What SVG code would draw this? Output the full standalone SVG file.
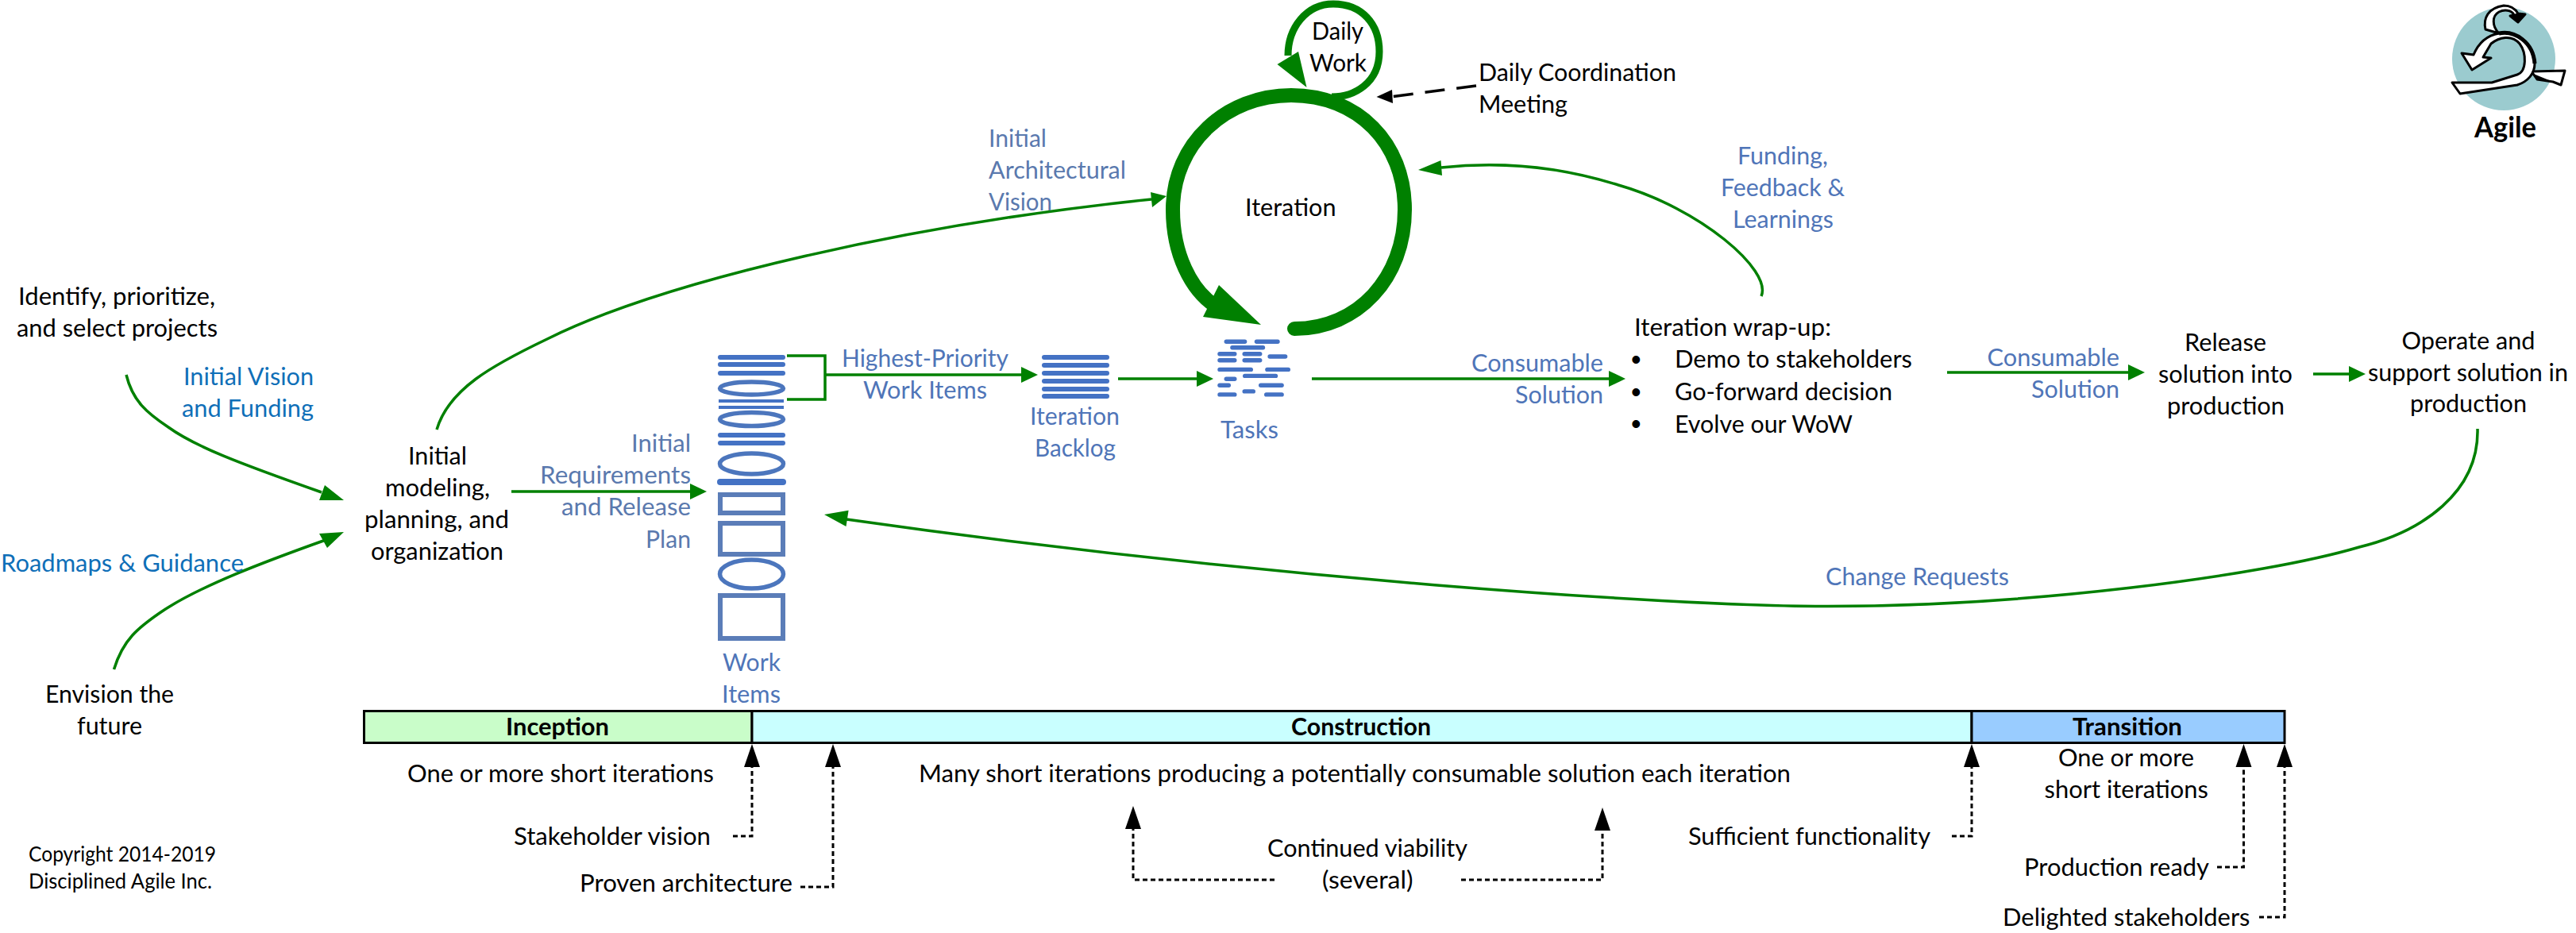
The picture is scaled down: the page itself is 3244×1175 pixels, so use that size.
<svg xmlns="http://www.w3.org/2000/svg" width="3244" height="1175" viewBox="0 0 3244 1175">
<style>
text{font-family:"Lato","Carlito","Open Sans","Liberation Sans",sans-serif;font-size:30px;fill:#000;transform:translateY(1.5px)}
.v{fill:#0f6fb8}
.l{fill:#4f75b8}
.g{fill:#5a79ae}
.b{font-weight:700}
.s{font-size:26.5px}
.wire{fill:none;stroke:#008000;stroke-width:3.5}
.head{fill:#008000;stroke:none}
.dash{fill:none;stroke:#000;stroke-width:3;stroke-dasharray:6 4}
.bar{fill:#4472c4}
.ring{fill:none;stroke:#4c76bd;stroke-width:5.5}
.box{fill:none;stroke:#5b7db8;stroke-width:6}
.phase{stroke:#000;stroke-width:3}
.bullet{font-family:"Liberation Sans",sans-serif;font-size:36px}
</style>
<defs>
<marker id="gh" markerUnits="userSpaceOnUse" markerWidth="22" markerHeight="22" refX="0" refY="11" orient="auto"><path d="M0,1 L21,11 L0,21 Z" fill="#008000"/></marker>
<marker id="bh" markerUnits="userSpaceOnUse" markerWidth="30" markerHeight="22" refX="0" refY="11" orient="auto"><path d="M0,1 L29,11 L0,21 Z" fill="#000"/></marker>
</defs>

<g id="connectors">
<path class="wire" d="M159,472 C167,505 185,520 212,538 C245,562 300,583 405,620"/>
<polygon class="head" points="433,630 409,611 402,630"/>
<path class="wire" d="M143.5,843 C155,805 175,790 201,772 C250,738 340,705 410,680"/>
<polygon class="head" points="433,670 402,672 412,690"/>
<path class="wire" d="M550,541 C565,490 620,460 689,427 C840,352 1150,282 1450,251"/>
<polygon class="head" points="1469,247 1449,242 1451,261"/>
<path class="wire" d="M644,619 H869" marker-end="url(#gh)"/>
<path class="wire" d="M991,448 H1039 V503 H991"/>
<path class="wire" d="M1039,472 H1286" marker-end="url(#gh)"/>
<path class="wire" d="M1408,477 H1507" marker-end="url(#gh)"/>
<path class="wire" d="M1652,477 H2026" marker-end="url(#gh)"/>
<path class="wire" d="M2452,469 H2680" marker-end="url(#gh)"/>
<path class="wire" d="M2913,471 H2958" marker-end="url(#gh)"/>
<path class="wire" d="M2218,373 C2232,340 2140,262 2038,233 C1950,205 1870,205 1815,211"/>
<polygon class="head" points="1786,214 1814.5,202 1816,221"/>
<path class="wire" d="M3120,540 C3122,620 3050,670 2971,689 C2850,725 2550,765 2286,763.5 C2100,762 1600,730 1066,654"/>
<polygon class="head" points="1038,648 1068.6,642.7 1065.5,663"/>
<path fill="none" stroke="#008000" stroke-width="18" stroke-linecap="round" d="M1630,414 C1710,414 1769,350 1769,264 C1769,180 1710,120 1626,120 C1545,120 1477,180 1477,264 C1477,320 1500,365 1530,385"/>
<polygon class="head" points="1588,409 1535,359 1515,399"/>
<path fill="none" stroke="#008000" stroke-width="9" d="M1677,122 C1705,122 1737,105 1737,65 C1737,30 1715,5 1679,5 C1645,5 1622,35 1622,70"/>
<polygon class="head" points="1635,65 1608.5,81 1645.5,110"/>
<path fill="none" stroke="#000" stroke-width="3.5" stroke-dasharray="25 15" d="M1859,108 L1754,121.5"/>
<polygon points="1733.5,122 1753,113 1754,130" fill="#000"/>
<path class="dash" d="M923,1053 H947 V966" marker-end="url(#bh)"/>
<path class="dash" d="M1008,1117 H1049 V966" marker-end="url(#bh)"/>
<path class="dash" d="M1605,1108 H1427 V1044" marker-end="url(#bh)"/>
<path class="dash" d="M1840,1108 H2018 V1046" marker-end="url(#bh)"/>
<path class="dash" d="M2458,1053 H2483 V966" marker-end="url(#bh)"/>
<path class="dash" d="M2792,1092 H2825.5 V966" marker-end="url(#bh)"/>
<path class="dash" d="M2845,1155 H2877 V966" marker-end="url(#bh)"/>
</g>

<g id="identify"><text x="23" y="382.5" textLength="248" lengthAdjust="spacingAndGlyphs">Identify, prioritize,</text><text x="21" y="422" textLength="253" lengthAdjust="spacingAndGlyphs">and select projects</text></g>
<g id="envision"><text x="57" y="883" textLength="162" lengthAdjust="spacingAndGlyphs">Envision the</text><text x="97" y="923" textLength="82" lengthAdjust="spacingAndGlyphs">future</text></g>
<g id="vision-label"><text class="v" x="231" y="483.6" textLength="164" lengthAdjust="spacingAndGlyphs">Initial Vision</text><text class="v" x="229" y="523.6" textLength="166" lengthAdjust="spacingAndGlyphs">and Funding</text></g>
<g id="roadmaps-label"><text class="v" x="1" y="718" textLength="306" lengthAdjust="spacingAndGlyphs">Roadmaps &amp; Guidance</text></g>
<g id="initial-modeling"><text x="514" y="583" textLength="74" lengthAdjust="spacingAndGlyphs">Initial</text><text x="485" y="623.6" textLength="132" lengthAdjust="spacingAndGlyphs">modeling,</text><text x="459" y="663.6" textLength="182" lengthAdjust="spacingAndGlyphs">planning, and</text><text x="467" y="703" textLength="167" lengthAdjust="spacingAndGlyphs">organization</text></g>
<g id="requirements-label"><text class="g" x="795" y="567.5" textLength="75" lengthAdjust="spacingAndGlyphs">Initial</text><text class="g" x="680" y="607.5" textLength="190" lengthAdjust="spacingAndGlyphs">Requirements</text><text class="g" x="707" y="647.5" textLength="163" lengthAdjust="spacingAndGlyphs">and Release</text><text class="g" x="813" y="688" textLength="57" lengthAdjust="spacingAndGlyphs">Plan</text></g>
<g id="architecture-label"><text class="g" x="1245" y="183" textLength="73" lengthAdjust="spacingAndGlyphs">Initial</text><text class="g" x="1245" y="223" textLength="173" lengthAdjust="spacingAndGlyphs">Architectural</text><text class="g" x="1245" y="263" textLength="80" lengthAdjust="spacingAndGlyphs">Vision</text></g>

<g id="work-items">
<rect class="bar" x="904" y="447" width="85" height="6" rx="3"/><rect class="bar" x="904" y="456" width="85" height="6" rx="3"/><rect class="bar" x="904" y="467" width="85" height="6" rx="3"/>
<ellipse class="ring" cx="946.5" cy="489" rx="40" ry="8"/>
<rect class="bar" x="905" y="503" width="82" height="4"/><rect class="bar" x="905" y="511" width="82" height="4"/>
<ellipse class="ring" cx="946.5" cy="528" rx="40" ry="8.5"/>
<rect class="bar" x="904" y="545" width="85" height="6" rx="3"/><rect class="bar" x="904" y="555" width="85" height="6" rx="3"/>
<ellipse class="ring" cx="946.5" cy="584" rx="40" ry="13"/>
<rect class="bar" x="903" y="603" width="87" height="8" rx="4"/>
<rect class="box" x="907" y="623" width="79" height="23"/>
<rect class="box" x="907" y="659" width="79" height="39"/>
<ellipse class="ring" cx="946.5" cy="723" rx="40" ry="18"/>
<rect class="box" x="907" y="750" width="79" height="54"/>
<text class="l" x="910" y="843" textLength="73" lengthAdjust="spacingAndGlyphs">Work</text><text class="l" x="909" y="883" textLength="74" lengthAdjust="spacingAndGlyphs">Items</text>
</g>
<g id="highest-label"><text class="l" x="1060" y="460" textLength="210" lengthAdjust="spacingAndGlyphs">Highest-Priority</text><text class="l" x="1087" y="500" textLength="156" lengthAdjust="spacingAndGlyphs">Work Items</text></g>
<g id="iteration-backlog">
<rect class="bar" x="1312" y="447" width="85" height="6" rx="3"/><rect class="bar" x="1312" y="457" width="85" height="6" rx="3"/><rect class="bar" x="1312" y="467" width="85" height="6" rx="3"/><rect class="bar" x="1312" y="477" width="85" height="6" rx="3"/><rect class="bar" x="1312" y="487" width="85" height="6" rx="3"/><rect class="bar" x="1312" y="496" width="85" height="6" rx="3"/>
<text class="l" x="1297" y="533" textLength="113" lengthAdjust="spacingAndGlyphs">Iteration</text><text class="l" x="1303" y="573" textLength="102" lengthAdjust="spacingAndGlyphs">Backlog</text>
</g>
<g id="tasks">
<rect class="bar" x="1541.6" y="427.5" width="28.7" height="5.4" rx="2.7"/><rect class="bar" x="1579.8" y="427.5" width="31.9" height="5.4" rx="2.7"/>
<rect class="bar" x="1549.2" y="435" width="44" height="5.4" rx="2.7"/>
<rect class="bar" x="1533.3" y="443" width="24.2" height="5.4" rx="2.7"/><rect class="bar" x="1564.5" y="443" width="24.9" height="5.4" rx="2.7"/>
<rect class="bar" x="1596.4" y="446.3" width="24.9" height="5.4" rx="2.7"/>
<rect class="bar" x="1533.3" y="451" width="24.2" height="5.4" rx="2.7"/><rect class="bar" x="1564.5" y="451" width="24.9" height="5.4" rx="2.7"/>
<rect class="bar" x="1533.3" y="462.7" width="44.7" height="5.4" rx="2.7"/><rect class="bar" x="1593.2" y="462.7" width="31.8" height="5.4" rx="2.7"/>
<rect class="bar" x="1565" y="470.7" width="44.2" height="5.4" rx="2.7"/>
<rect class="bar" x="1541.6" y="474.6" width="15.9" height="5.4" rx="2.7"/>
<rect class="bar" x="1533.3" y="482.6" width="16.7" height="5.4" rx="2.7"/><rect class="bar" x="1585" y="482.6" width="31.8" height="5.4" rx="2.7"/>
<rect class="bar" x="1564.5" y="490.2" width="16.5" height="5.4" rx="2.7"/>
<rect class="bar" x="1533.3" y="494.2" width="24.2" height="5.4" rx="2.7"/><rect class="bar" x="1592" y="494.2" width="24.8" height="5.4" rx="2.7"/>
<text class="l" x="1537" y="550" textLength="73" lengthAdjust="spacingAndGlyphs">Tasks</text>
</g>
<g id="iteration"><text x="1568" y="270" textLength="114.5" lengthAdjust="spacingAndGlyphs">Iteration</text></g>
<g id="daily-work"><text x="1652" y="48" textLength="65" lengthAdjust="spacingAndGlyphs">Daily</text><text x="1649" y="88" textLength="72" lengthAdjust="spacingAndGlyphs">Work</text></g>
<g id="daily-coordination"><text x="1862" y="100" textLength="249" lengthAdjust="spacingAndGlyphs">Daily Coordination</text><text x="1862" y="140" textLength="112" lengthAdjust="spacingAndGlyphs">Meeting</text></g>
<g id="funding-label"><text class="l" x="2188" y="205" textLength="114" lengthAdjust="spacingAndGlyphs">Funding,</text><text class="l" x="2167" y="245" textLength="156" lengthAdjust="spacingAndGlyphs">Feedback &amp;</text><text class="l" x="2182" y="285" textLength="127" lengthAdjust="spacingAndGlyphs">Learnings</text></g>
<g id="consumable-1"><text class="l" x="1853" y="466" textLength="166" lengthAdjust="spacingAndGlyphs">Consumable</text><text class="l" x="1908" y="506" textLength="111" lengthAdjust="spacingAndGlyphs">Solution</text></g>
<g id="wrap-up">
<text x="2058" y="421" textLength="248" lengthAdjust="spacingAndGlyphs">Iteration wrap-up:</text>
<text class="bullet" x="2054" y="463">•</text><text x="2109" y="461" textLength="299" lengthAdjust="spacingAndGlyphs">Demo to stakeholders</text>
<text class="bullet" x="2054" y="504">•</text><text x="2109" y="502.5" textLength="274" lengthAdjust="spacingAndGlyphs">Go-forward decision</text>
<text class="bullet" x="2054" y="544">•</text><text x="2109" y="543" textLength="224" lengthAdjust="spacingAndGlyphs">Evolve our WoW</text>
</g>
<g id="consumable-2"><text class="l" x="2502.5" y="459" textLength="166.5" lengthAdjust="spacingAndGlyphs">Consumable</text><text class="l" x="2558" y="499" textLength="111" lengthAdjust="spacingAndGlyphs">Solution</text></g>
<g id="release"><text x="2751" y="440.6" textLength="103" lengthAdjust="spacingAndGlyphs">Release</text><text x="2718" y="480.6" textLength="169" lengthAdjust="spacingAndGlyphs">solution into</text><text x="2729" y="520.6" textLength="148" lengthAdjust="spacingAndGlyphs">production</text></g>
<g id="operate"><text x="3024.5" y="438" textLength="168" lengthAdjust="spacingAndGlyphs">Operate and</text><text x="2982" y="478" textLength="252" lengthAdjust="spacingAndGlyphs">support solution in</text><text x="3035" y="517" textLength="147" lengthAdjust="spacingAndGlyphs">production</text></g>
<g id="change-label"><text class="l" x="2299" y="735.7" textLength="231" lengthAdjust="spacingAndGlyphs">Change Requests</text></g>

<g id="agile-icon">
<circle cx="3153" cy="74" r="65" fill="#9bcbcf"/>
<g stroke="#000" stroke-width="3" stroke-linejoin="round" fill="#fff">
<path d="M3188,90 L3230,89 L3225,107 L3215,103 L3195,100 Z"/>
<path d="M3138,104 L3170,94 C3182,90 3182,67 3173,55 C3163,43 3147,47 3137,55 L3127,72 L3137,73 L3113,88 L3100,67 L3115,69 C3120,57 3130,45 3147,42 C3167,38 3190,53 3192,80 C3192,93 3183,103 3170,107 L3098,118 L3088,104 Z"/>
<path d="M3147,42 L3130,37 C3127,23 3133,10 3153,7 C3163,7 3168,12 3171,17 L3180,18 L3171,28 L3161,20 L3166,19 C3163,12 3153,12 3147,15 C3138,20 3138,33 3147,42 Z"/>
</g>
<path d="M3147,42 C3167,38 3190,53 3192,80" fill="none" stroke="#000" stroke-width="5"/>
<path d="M3161,20 L3166,18 L3171,16 L3180,18 L3171,28 Z M3195,100 L3188,92 L3215,103 Z" fill="#000"/>
<text class="b" x="3116" y="171" textLength="78" lengthAdjust="spacingAndGlyphs" style="font-size:36px">Agile</text>
</g>

<g id="inception"><rect class="phase" x="458.5" y="895.5" width="488.5" height="40" fill="#c9fdc9"/><text class="b" x="637" y="924" textLength="130" lengthAdjust="spacingAndGlyphs">Inception</text></g>
<g id="construction"><rect class="phase" x="947" y="895.5" width="1536" height="40" fill="#c9ffff"/><text class="b" x="1626" y="924" textLength="176" lengthAdjust="spacingAndGlyphs">Construction</text></g>
<g id="transition"><rect class="phase" x="2483" y="895.5" width="394" height="40" fill="#99ccff"/><text class="b" x="2610" y="924" textLength="138" lengthAdjust="spacingAndGlyphs">Transition</text></g>

<g id="notes">
<text x="513" y="983" textLength="386" lengthAdjust="spacingAndGlyphs">One or more short iterations</text>
<text x="1157" y="983" textLength="1098" lengthAdjust="spacingAndGlyphs">Many short iterations producing a potentially consumable solution each iteration</text>
<text x="2592" y="963" textLength="171" lengthAdjust="spacingAndGlyphs">One or more</text>
<text x="2574.5" y="1003" textLength="206.5" lengthAdjust="spacingAndGlyphs">short iterations</text>
</g>
<g id="stakeholder-vision"><text x="647" y="1062" textLength="248" lengthAdjust="spacingAndGlyphs">Stakeholder vision</text></g>
<g id="proven-architecture"><text x="730" y="1121" textLength="268" lengthAdjust="spacingAndGlyphs">Proven architecture</text></g>
<g id="continued-viability"><text x="1596" y="1077" textLength="252" lengthAdjust="spacingAndGlyphs">Continued viability</text><text x="1665" y="1117" textLength="114.5" lengthAdjust="spacingAndGlyphs">(several)</text></g>
<g id="sufficient-functionality"><text x="2126" y="1062" textLength="305" lengthAdjust="spacingAndGlyphs">Sufficient functionality</text></g>
<g id="production-ready"><text x="2549" y="1101" textLength="233" lengthAdjust="spacingAndGlyphs">Production ready</text></g>
<g id="delighted-stakeholders"><text x="2522" y="1164" textLength="311.5" lengthAdjust="spacingAndGlyphs">Delighted stakeholders</text></g>
<g id="copyright"><text class="s" x="36" y="1083" textLength="236" lengthAdjust="spacingAndGlyphs">Copyright 2014-2019</text><text class="s" x="36" y="1117" textLength="231" lengthAdjust="spacingAndGlyphs">Disciplined Agile Inc.</text></g>
</svg>
